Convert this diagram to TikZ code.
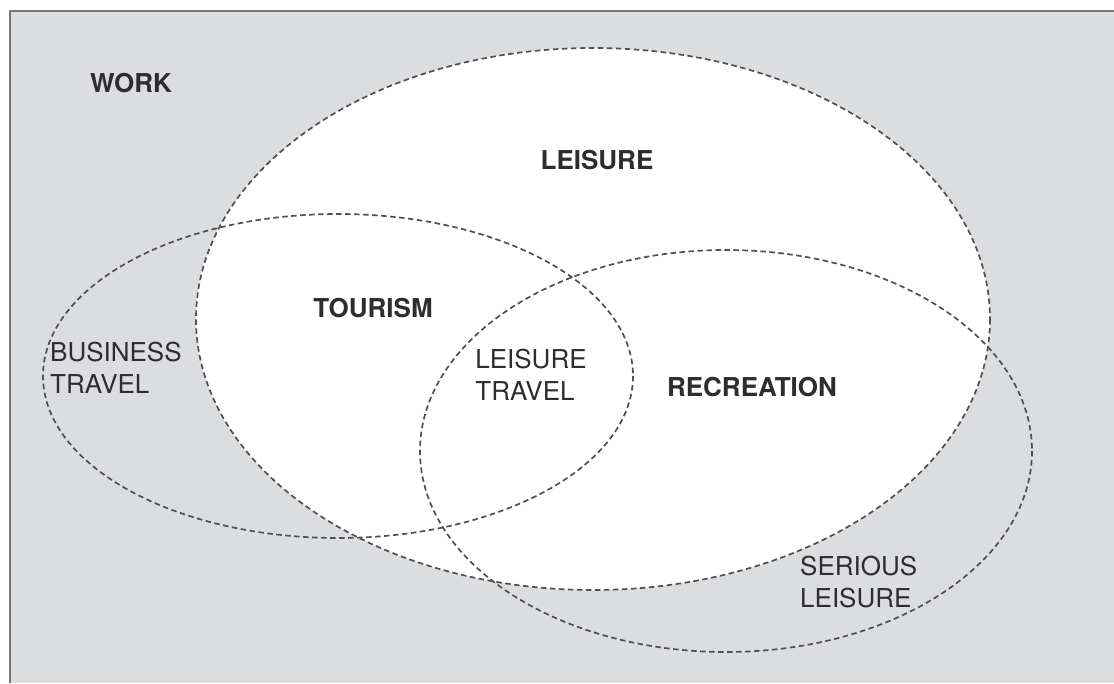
\documentclass[tikz,border=0pt]{standalone}
\usepackage{fontspec}
\setmainfont{TeX Gyre Heros}
\definecolor{paperGray}{RGB}{220,221,223}
\definecolor{frameGray}{RGB}{120,120,122}
\definecolor{dashGray}{RGB}{80,80,84}
\definecolor{inkGray}{RGB}{45,45,48}
\newcommand{\vennfont}{\fontsize{26}{32}\selectfont}
\begin{document}
\begin{tikzpicture}[x=1pt,y=-1pt,line join=round,font=\vennfont,
    zone/.style={draw=dashGray,line width=1.7pt,dash pattern=on 5.5pt off 3.5pt},
    lbl/.style={text=inkGray,inner sep=0pt,align=left},
    head/.style={lbl,font=\vennfont\bfseries}]
    \useasboundingbox (0,0) rectangle (1114,683);
    % background and frame
    \fill[paperGray] (10,11) rectangle (1114,683);
    \draw[frameGray,line width=2pt] (10,683)--(10,11)--(1114,11);
    % leisure (white) and the two overlapping fields
    \fill[white] (593,319) ellipse [x radius=397,y radius=271];
    \draw[zone] (593,319) ellipse [x radius=397,y radius=271];
    \draw[zone] (338,376) ellipse [x radius=295,y radius=162];
    \draw[zone] (726,451) ellipse [x radius=306,y radius=201];
    % labels
    \node[head] (work) at (131,83) {WORK};
    \node[head] (leisure) at (597,160) {LEISURE};
    \node[head] (tourism) at (373,308) {TOURISM};
    \node[head] (recreation) at (752,387) {RECREATION};
    \node[lbl,anchor=west] (business) at (50,368) {BUSINESS\\TRAVEL};
    \node[lbl] (travel) at (531,375) {LEISURE\\TRAVEL};
    \node[lbl,anchor=west] (serious) at (800,582) {SERIOUS\\LEISURE};
\end{tikzpicture}
\end{document}
